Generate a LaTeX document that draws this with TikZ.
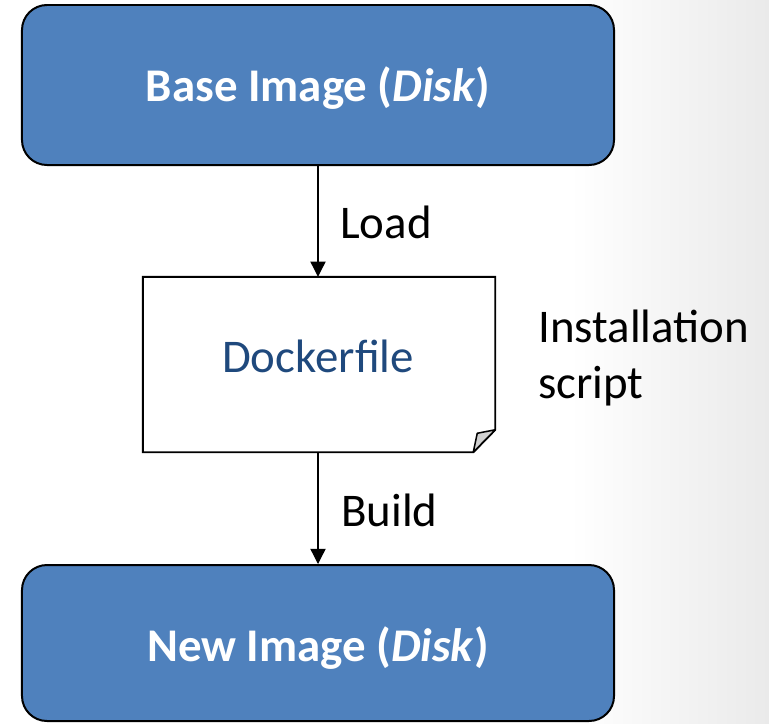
\documentclass[tikz,border=0pt]{standalone}
\usepackage{fontspec}
\setmainfont{Carlito}
\usetikzlibrary{arrows.meta,calc}
\definecolor{boxblue}{HTML}{4F81BD}
\definecolor{doctext}{HTML}{1F497D}
\definecolor{foldgray}{HTML}{D0D0D0}
\definecolor{edgegray}{HTML}{EAEAEA}
\tikzset{
  bluebox/.style={draw=black, line width=1.7pt, fill=boxblue, rounded corners=0.75cm,
    minimum width=17.76cm, inner sep=0pt},
  boxtext/.style={text=white, font=\fontsize{40}{48}\selectfont\bfseries},
  flowarrow/.style={line width=1.1pt, -{Triangle[width=13pt,length=13pt]}},
  lbl/.style={font=\fontsize{40}{47}\selectfont, text=black, inner sep=0pt, anchor=west, align=left},
}
\begin{document}
\begin{tikzpicture}[x=0.03cm,y=-0.03cm]
  \useasboundingbox (0,0) rectangle (769,723);
  % slide background: faint grey towards the right edge
  \fill[white] (0,0) rectangle (769,723);
  \shade[left color=white, right color=edgegray, shading angle=90] (570,0) rectangle (769,723);

  % image boxes
  \node[bluebox, minimum height=4.8cm] (base) at (318,85) {};
  \node[boxtext] (basetext) at (318,88) {Base Image (\textit{Disk})};
  \node[bluebox, minimum height=4.68cm] (new) at (318,643) {};
  \node[boxtext] (newtext) at (318,648) {New Image (\textit{Disk})};

  % Dockerfile document with folded corner
  \node[minimum width=10.56cm, minimum height=5.25cm, inner sep=0pt] (doc) at (319,364.5) {};
  \coordinate (fA) at ($(doc.north east)+(0,153)$);
  \coordinate (fB) at ($(doc.south east)+(-22,0)$);
  \fill[white] (doc.north west) -- (doc.north east) -- (fA) -- (fB) -- (doc.south west) -- cycle;
  \draw[line width=1.7pt, line join=miter] (doc.north west) -- (doc.north east) -- (fA) -- (fB) -- (doc.south west) -- cycle;
  \draw[line width=1.3pt, fill=foldgray, line join=round] (fA) -- ($(fA)+(-18,3.5)$) -- (fB) -- cycle;
  \node[font=\fontsize{40}{48}\selectfont, text=doctext] (doclabel) at (318,356) {Dockerfile};

  % flow
  \draw[flowarrow] (base.south -| 318,0) -- (doc.north -| 318,0);
  \draw[flowarrow] (doc.south -| 318,0) -- (new.north -| 318,0);

  % labels
  \node[lbl] (load) at (340,222) {Load};
  \node[lbl] (build) at (341,510) {Build};
  \node[lbl] (install) at (538,358) {Installation\\script};
\end{tikzpicture}
\end{document}
